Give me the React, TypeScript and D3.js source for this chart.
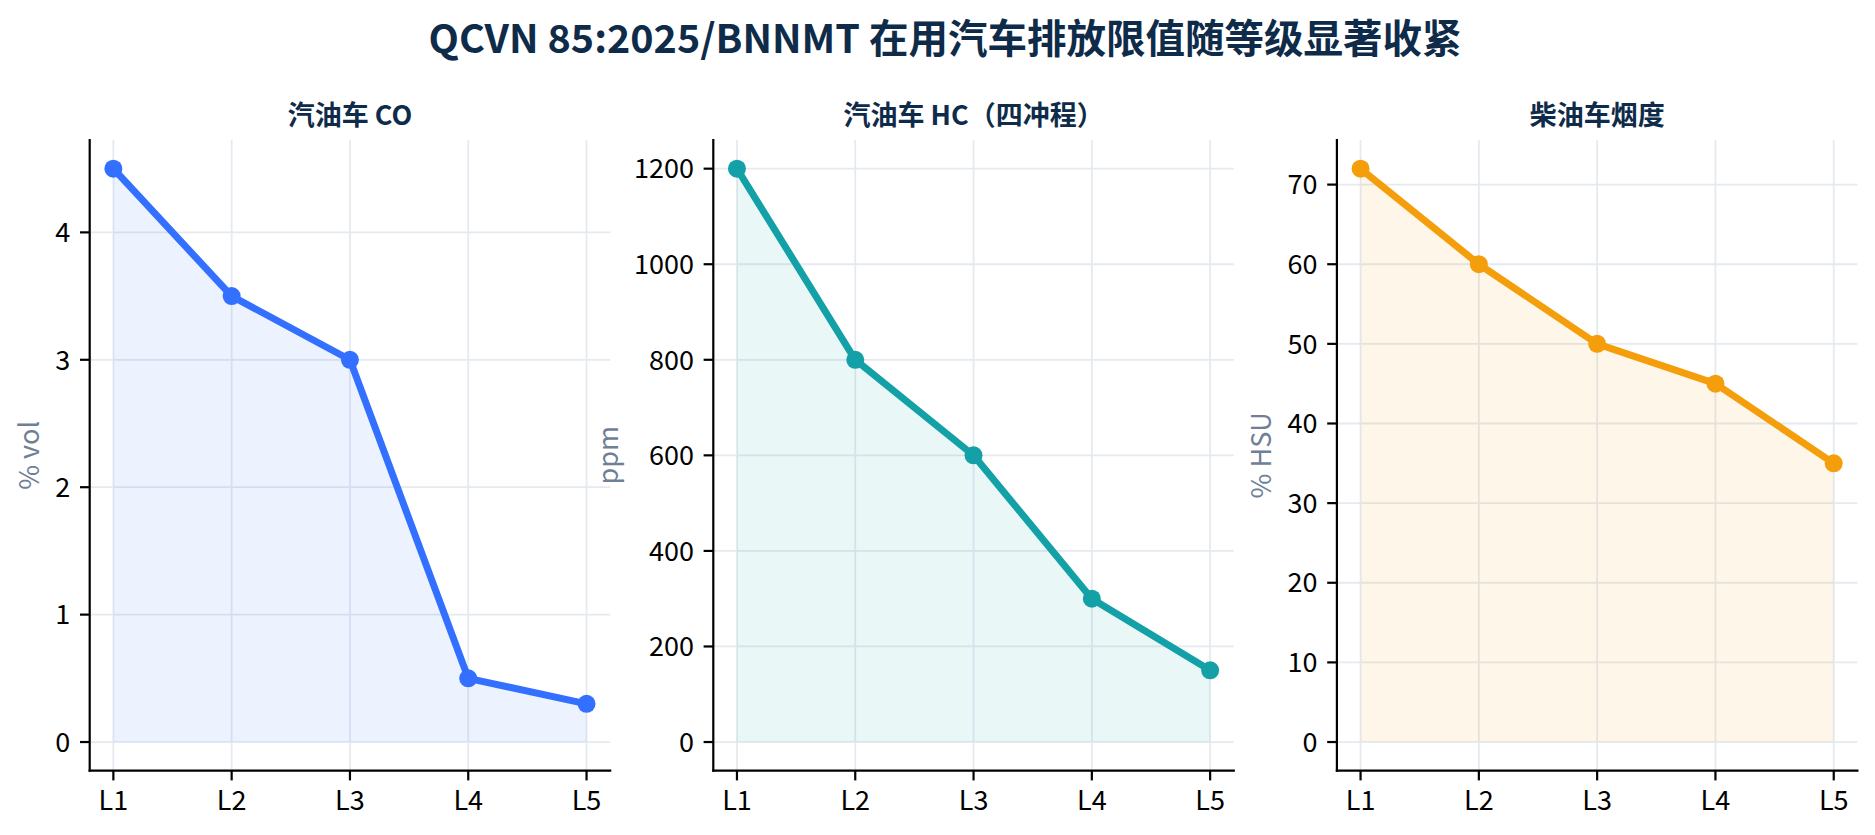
import React from 'react';
import * as d3 from 'd3';

const mainTitle = 'QCVN 85:2025/BNNMT 在用汽车排放限值随等级显著收紧';
const levels = ['L1', 'L2', 'L3', 'L4', 'L5'];
const coValues = [4.5, 3.5, 3.0, 0.5, 0.3];
const hcValues = [1200, 800, 600, 300, 150];
const smokeValues = [72, 60, 50, 45, 35];
const coTicks = [0, 1, 2, 3, 4];
const hcTicks = [0, 200, 400, 600, 800, 1000, 1200];
const smokeTicks = [0, 10, 20, 30, 40, 50, 60, 70];
const panelTitles = ['汽油车 CO', '汽油车 HC（四冲程）', '柴油车烟度'];
const yLabels = ['% vol', 'ppm', '% HSU'];
const colors = ['#3370ff', '#13a1a7', '#f59e0b'];

const W = 1875;
const H = 835;
const FONT = '"Noto Sans CJK SC", "Noto Sans", sans-serif';
const FS = 27;
const TICK_LEN = 9.7;
const TICK_PAD = 9.7;

const panels = [
  { values: coValues, ticks: coTicks, title: panelTitles[0], ylabel: yLabels[0], color: colors[0] },
  { values: hcValues, ticks: hcTicks, title: panelTitles[1], ylabel: yLabels[1], color: colors[1] },
  { values: smokeValues, ticks: smokeTicks, title: panelTitles[2], ylabel: yLabels[2], color: colors[2] },
];

let ctx: CanvasRenderingContext2D | null = null;
function measure(text: string, size: number): number {
  if (!ctx) {
    const c = document.createElement('canvas');
    ctx = c.getContext('2d');
  }
  if (!ctx) return text.length * size * 0.55;
  ctx.font = `${size}px "Noto Sans CJK SC"`;
  return ctx.measureText(text).width;
}

const axLeft0 = 89.7;
const axStep = 623.6;
const axW = 520.5;
const axTop = 140;
const axBottom = 770.7;

function Panel({ idx }: { idx: number }) {
  const p = panels[idx];
  const left = axLeft0 + idx * axStep;
  const n = levels.length;
  const x = d3.scaleLinear().domain([-0.05 * (n - 1), (n - 1) * 1.05]).range([left, left + axW]);
  const maxV = d3.max(p.values) as number;
  const minV = 0;
  const span = maxV - minV;
  const y = d3.scaleLinear().domain([minV - 0.05 * span, maxV + 0.05 * span]).range([axBottom, axTop]);
  const pts = p.values.map((v, i) => [x(i), y(v)] as [number, number]);
  const line = d3.line<[number, number]>().x((d) => d[0]).y((d) => d[1])(pts) || '';
  const area = d3
    .area<number>()
    .x((_, i) => x(i))
    .y0(() => y(0))
    .y1((d) => y(d))(p.values) || '';
  const tickLabels = p.ticks.map((t) => String(t));
  const maxW = Math.max(...tickLabels.map((t) => measure(t, FS)));
  const ylabX = left - TICK_LEN - TICK_PAD - maxW - 11 - 0.2 * FS;
  const grid = '#e5eaf0';
  return (
    <g>
      {p.ticks.map((t) => (
        <line key={'gy' + t} x1={left} x2={left + axW} y1={y(t)} y2={y(t)} stroke={grid} strokeWidth={1.8} />
      ))}
      {levels.map((l, i) => (
        <line key={'gx' + l} x1={x(i)} x2={x(i)} y1={axTop} y2={axBottom} stroke={grid} strokeWidth={1.8} />
      ))}
      <path d={area} fill={p.color} fillOpacity={0.09} stroke="none" />
      <path d={line} fill="none" stroke={p.color} strokeWidth={7} strokeLinejoin="round" strokeLinecap="round" />
      {pts.map((d, i) => (
        <circle key={'m' + i} cx={d[0]} cy={d[1]} r={9} fill={p.color} />
      ))}
      <line x1={left} x2={left} y1={axTop} y2={axBottom} stroke="#000" strokeWidth={2.2} strokeLinecap="square" />
      <line x1={left} x2={left + axW} y1={axBottom} y2={axBottom} stroke="#000" strokeWidth={2.2} strokeLinecap="square" />
      {p.ticks.map((t, i) => (
        <g key={'ty' + t}>
          <line x1={left - TICK_LEN} x2={left} y1={y(t)} y2={y(t)} stroke="#000" strokeWidth={2.2} />
          <text x={left - TICK_LEN - TICK_PAD} y={y(t) + 0.36 * FS} textAnchor="end" fontSize={FS} fontFamily={FONT} fill="#000">
            {tickLabels[i]}
          </text>
        </g>
      ))}
      {levels.map((l, i) => (
        <g key={'tx' + l}>
          <line x1={x(i)} x2={x(i)} y1={axBottom} y2={axBottom + TICK_LEN} stroke="#000" strokeWidth={2.2} />
          <text x={x(i)} y={axBottom + TICK_LEN + TICK_PAD + 0.74 * FS} textAnchor="middle" fontSize={FS} fontFamily={FONT} fill="#000">
            {l}
          </text>
        </g>
      ))}
      <text
        transform={`translate(${ylabX},${(axTop + axBottom) / 2}) rotate(-90)`}
        textAnchor="middle"
        fontSize={FS}
        fontFamily={FONT}
        fill="#6e7f96"
      >
        {p.ylabel}
      </text>
      <text x={left + axW / 2} y={125} textAnchor="middle" fontSize={FS} fontWeight="bold" fontFamily={FONT} fill="#0f2b4a">
        {p.title}
      </text>
    </g>
  );
}

export default function App() {
  return (
    <svg
      width={W}
      height={H}
      viewBox={`0 0 ${W} ${H}`}
      style={{ position: 'absolute', left: 0, top: 0, background: '#fff', display: 'block' }}
    >
      <rect x={0} y={0} width={W} height={H} fill="#fff" />
      <text x={945} y={53} textAnchor="middle" fontSize={39.5} fontWeight="bold" fontFamily={FONT} fill="#0f2b4a">
        {mainTitle}
      </text>
      {panels.map((_, i) => (
        <Panel key={i} idx={i} />
      ))}
    </svg>
  );
}
